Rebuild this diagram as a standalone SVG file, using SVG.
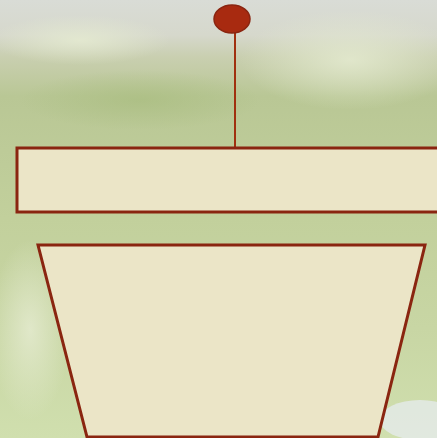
<svg xmlns="http://www.w3.org/2000/svg" width="437" height="438" viewBox="0 0 437 438">
  <defs>
    <linearGradient id="bg" x1="0" y1="0" x2="0" y2="1">
      <stop offset="0" stop-color="#d9dcd6"/>
      <stop offset="0.08" stop-color="#d6d8cc"/>
      <stop offset="0.13" stop-color="#c9cfb0"/>
      <stop offset="0.22" stop-color="#b9c795"/>
      <stop offset="0.5" stop-color="#c2d09c"/>
      <stop offset="0.75" stop-color="#c8d6a4"/>
      <stop offset="1" stop-color="#d0dfae"/>
    </linearGradient>
    <radialGradient id="light" cx="0.5" cy="0.5" r="0.5">
      <stop offset="0" stop-color="#e6ecd2" stop-opacity="0.8"/>
      <stop offset="1" stop-color="#e6ecd2" stop-opacity="0"/>
    </radialGradient>
    <radialGradient id="greenBlob" cx="0.5" cy="0.5" r="0.5">
      <stop offset="0" stop-color="#a9bd80" stop-opacity="0.7"/>
      <stop offset="1" stop-color="#a9bd80" stop-opacity="0"/>
    </radialGradient>
    <style>
      .shape { fill: #ebe5c7; stroke: #8a2510; stroke-width: 3; }
      .pin { fill: #a82a10; stroke: #8a2510; stroke-width: 1.5; }
      .conn { stroke: #a0300f; stroke-width: 2; fill: none; }
    </style>
  </defs>
  <rect x="0" y="0" width="437" height="438" fill="url(#bg)"/>
  <ellipse cx="350" cy="60" rx="110" ry="50" fill="url(#light)"/>
  <ellipse cx="80" cy="40" rx="90" ry="25" fill="url(#light)"/>
  <ellipse cx="140" cy="100" rx="120" ry="30" fill="url(#greenBlob)"/>
  <ellipse cx="30" cy="330" rx="40" ry="90" fill="url(#light)"/>
  <ellipse cx="420" cy="420" rx="40" ry="20" fill="#e8ecf4" opacity="0.7"/>

  <g id="connectors">
    <line class="conn" x1="235" y1="33" x2="235" y2="148"/>
  </g>
  <g id="pin">
    <ellipse class="pin" cx="232" cy="19" rx="18" ry="14"/>
  </g>
  <g id="bar">
    <rect class="shape" x="17" y="148" width="425" height="64"/>
  </g>
  <g id="pot">
    <polygon class="shape" points="38,245 425,245 378,437 87,437"/>
  </g>
</svg>
